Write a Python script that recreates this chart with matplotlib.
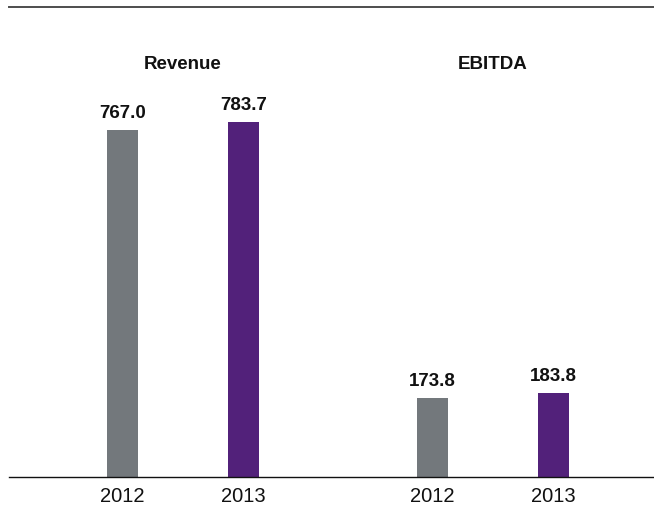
import matplotlib
matplotlib.use("Agg")
import matplotlib.pyplot as plt
from matplotlib.transforms import blended_transform_factory

plt.rcParams['font.family'] = ['Liberation Sans', 'DejaVu Sans']

groups = ["Revenue", "EBITDA"]
years = ["2012", "2013"]
revenue = [767.0, 783.7]
ebitda = [173.8, 183.8]
value_labels = ["767.0", "783.7", "173.8", "183.8"]
colors = ["#73787c", "#52217a"]

W, H = 654, 508
fig = plt.figure(figsize=(W / 100, H / 100), dpi=100)
ax = fig.add_axes([9 / W, 1 - 476.5 / H, 1 - 9 / W, (476.5 - 7) / H])

# positions in units of 121 px
pos = [0.0, 1.0, 2.562, 3.562]
vals = revenue + ebitda
cols = colors + colors
bars = ax.bar(pos, vals, width=0.258, color=cols, zorder=2)

ax.set_xlim(-0.938, 4.393)
ax.set_ylim(0, 1038.5)

for b, lab in zip(bars, value_labels):
    ax.annotate(lab, (b.get_x() + b.get_width() / 2, b.get_height()),
                xytext=(0, 8.6), textcoords='offset points',
                ha='center', va='baseline', fontsize=13.5, fontweight='bold',
                color='#111111')

tr = blended_transform_factory(ax.transData, fig.transFigure)
centers = [(pos[0] + pos[1]) / 2, (pos[2] + pos[3]) / 2]
for c, g in zip(centers, groups):
    fig.text(c, 1 - 69 / H, g, transform=tr, ha='center', va='baseline',
             fontsize=13.5, fontweight='bold', color='#111111')

ax.set_xticks(pos)
ax.set_xticklabels(years + years, fontsize=14.5, color='#111111')
ax.tick_params(axis='x', length=0, pad=7.8)
ax.set_yticks([])

for s in ['left', 'right']:
    ax.spines[s].set_visible(False)
ax.spines['bottom'].set_color('#111111')
ax.spines['bottom'].set_linewidth(1.0)
ax.spines['top'].set_color('#4d4d4d')
ax.spines['top'].set_linewidth(1.4)

fig.savefig("out.png", dpi=100)
